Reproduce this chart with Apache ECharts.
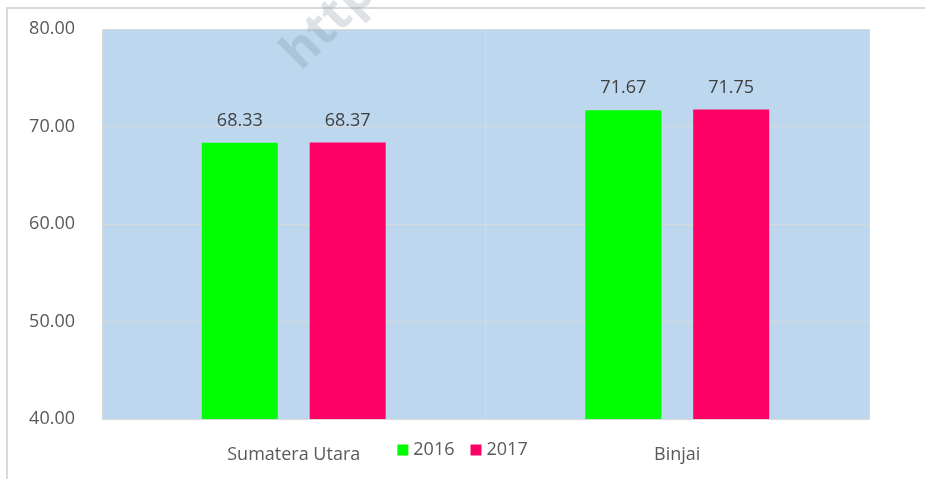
<!DOCTYPE html>
<html>
<head>
<meta charset="utf-8">
<script src="https://cdn.jsdelivr.net/npm/echarts@6/dist/echarts.min.js"></script>
<style>
  html, body { margin: 0; padding: 0; background: #fff; }
  #chart { width: 925px; height: 479px; }
</style>
</head>
<body>
<div id="chart"></div>
<script>
var categories = ['Sumatera Utara', 'Binjai'];
var seriesNames = ['2016', '2017'];
var values2016 = [68.33, 71.67];
var values2017 = [68.37, 71.75];

var chart = echarts.init(document.getElementById('chart'));
var textColor = '#595959';
var font = 'Open Sans';

var option = {
  backgroundColor: '#fff',
  animation: false,
  textStyle: { fontFamily: font },
  grid: {
    left: 102,
    right: 56,
    top: 29,
    bottom: 60,
    show: true,
    backgroundColor: '#bdd7ee',
    borderWidth: 0
  },
  graphic: [
    {
      type: 'rect',
      shape: { x: 7, y: 8, width: 940, height: 490 },
      style: { fill: 'none', stroke: '#d9d9d9', lineWidth: 2 },
      z: -1
    },
    {
      type: 'text',
      x: 273,
      y: 44,
      rotation: Math.PI / 4,
      style: {
        text: 'http',
        fill: 'rgba(120,140,160,0.25)',
        font: 'bold 50px ' + font
      },
      z: 100
    }
  ],
  legend: {
    data: seriesNames,
    bottom: 15,
    left: 'center',
    itemWidth: 11,
    itemHeight: 11,
    itemGap: 16,
    icon: 'rect',
    textStyle: { color: textColor, fontSize: 18, fontFamily: font }
  },
  xAxis: {
    type: 'category',
    data: categories,
    axisLine: { show: true, lineStyle: { color: '#d9d9d9', width: 1 } },
    axisTick: { show: false },
    axisLabel: { color: textColor, fontSize: 18, fontFamily: font, margin: 27 },
    splitLine: { show: true, interval: 0, lineStyle: { color: '#d9d9d9', width: 1 } }
  },
  yAxis: {
    type: 'value',
    min: 40,
    max: 80,
    interval: 10,
    axisLine: { show: false },
    axisTick: { show: false },
    axisLabel: {
      color: textColor,
      fontSize: 18,
      fontFamily: font,
      margin: 27,
      formatter: function (v) { return v.toFixed(2); }
    },
    splitLine: { lineStyle: { color: '#d9d9d9', width: 1 } }
  },
  series: [
    {
      name: seriesNames[0],
      type: 'bar',
      data: values2016,
      barWidth: 76,
      barGap: '42%',
      itemStyle: { color: '#00ff00' },
      label: {
        show: true,
        position: 'top',
        distance: 13,
        color: '#404040',
        fontSize: 18,
        fontFamily: font,
        formatter: function (p) { return p.value.toFixed(2); }
      }
    },
    {
      name: seriesNames[1],
      type: 'bar',
      data: values2017,
      barWidth: 76,
      barGap: '42%',
      itemStyle: { color: '#ff0066' },
      label: {
        show: true,
        position: 'top',
        distance: 13,
        color: '#404040',
        fontSize: 18,
        fontFamily: font,
        formatter: function (p) { return p.value.toFixed(2); }
      }
    }
  ]
};

chart.setOption(option);
</script>
</body>
</html>
